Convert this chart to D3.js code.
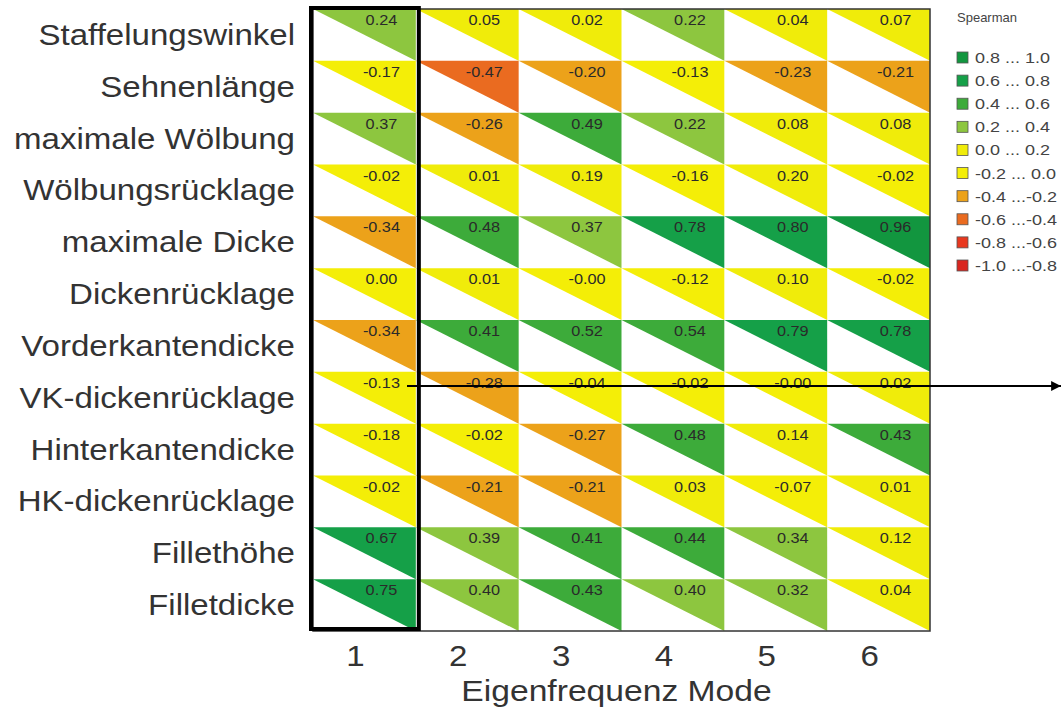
<!DOCTYPE html>
<html>
<head>
<meta charset="utf-8">
<script src="https://cdn.jsdelivr.net/npm/d3@7"></script>
<style>
  html, body { margin: 0; padding: 0; background: #fff; }
  svg { display: block; font-family: "Liberation Sans", Arial, Helvetica, sans-serif; }
</style>
</head>
<body>
<svg id="chart" width="1061" height="711"></svg>
<script>
// ---------- data ----------
const rowLabels = [
  "Staffelungswinkel", "Sehnenlänge", "maximale Wölbung", "Wölbungsrücklage",
  "maximale Dicke", "Dickenrücklage", "Vorderkantendicke", "VK-dickenrücklage",
  "Hinterkantendicke", "HK-dickenrücklage", "Fillethöhe", "Filletdicke"
];
const modeLabels = ["1", "2", "3", "4", "5", "6"];
const axisTitle = "Eigenfrequenz Mode";
const legendTitle = "Spearman";

// Spearman coefficients, one row per parameter, one entry per mode
const spearman = [
  [ 0.24,  0.05,  0.02,  0.22,  0.04,  0.07],
  [-0.17, -0.47, -0.20, -0.13, -0.23, -0.21],
  [ 0.37, -0.26,  0.49,  0.22,  0.08,  0.08],
  [-0.02,  0.01,  0.19, -0.16,  0.20, -0.02],
  [-0.34,  0.48,  0.37,  0.78,  0.80,  0.96],
  [ 0.00,  0.01, -0.00, -0.12,  0.10, -0.02],
  [-0.34,  0.41,  0.52,  0.54,  0.79,  0.78],
  [-0.13, -0.28, -0.04, -0.02, -0.00,  0.02],
  [-0.18, -0.02, -0.27,  0.48,  0.14,  0.43],
  [-0.02, -0.21, -0.21,  0.03, -0.07,  0.01],
  [ 0.67,  0.39,  0.41,  0.44,  0.34,  0.12],
  [ 0.75,  0.40,  0.43,  0.40,  0.32,  0.04]
];
const labelText = [
  ["0.24","0.05","0.02","0.22","0.04","0.07"],
  ["-0.17","-0.47","-0.20","-0.13","-0.23","-0.21"],
  ["0.37","-0.26","0.49","0.22","0.08","0.08"],
  ["-0.02","0.01","0.19","-0.16","0.20","-0.02"],
  ["-0.34","0.48","0.37","0.78","0.80","0.96"],
  ["0.00","0.01","-0.00","-0.12","0.10","-0.02"],
  ["-0.34","0.41","0.52","0.54","0.79","0.78"],
  ["-0.13","-0.28","-0.04","-0.02","-0.00","0.02"],
  ["-0.18","-0.02","-0.27","0.48","0.14","0.43"],
  ["-0.02","-0.21","-0.21","0.03","-0.07","0.01"],
  ["0.67","0.39","0.41","0.44","0.34","0.12"],
  ["0.75","0.40","0.43","0.40","0.32","0.04"]
];

// class bins (upper bound inclusive), lowest to highest
const binThresholds = [-0.8, -0.6, -0.4, -0.2, 0.0, 0.2, 0.4, 0.6, 0.8];
const binColors = ["#d9261f", "#e8381f", "#ea6b20", "#eca21a", "#f4ee07",
                   "#f0ec0a", "#8dc63f", "#3dab3a", "#15a048", "#12963f"];
const legendLabels = ["-1.0 ...-0.8", "-0.8 ...-0.6", "-0.6 ...-0.4", "-0.4 ...-0.2",
                      "-0.2 ... 0.0", "0.0 ... 0.2", "0.2 ... 0.4", "0.4 ... 0.6",
                      "0.6 ... 0.8", "0.8 ... 1.0"];

// ---------- layout ----------
const svg = d3.select("#chart");
const plot = { left: 313, right: 930, top: 9, bottom: 631 };
const SX = 1.14; // horizontal stretch of the large text glyphs in the original

const x = d3.scaleBand().domain(modeLabels).range([plot.left, plot.right]);
const y = d3.scaleBand().domain(rowLabels).range([plot.top, plot.bottom]);
const color = d3.scaleThreshold()
  .domain(binThresholds.map(t => t + 1e-9))
  .range(binColors);

const cells = [];
rowLabels.forEach((r, i) => modeLabels.forEach((m, j) => {
  cells.push({ row: r, mode: m, v: spearman[i][j], t: labelText[i][j] });
}));

// white background of plot
svg.append("rect")
  .attr("x", plot.left).attr("y", plot.top)
  .attr("width", plot.right - plot.left).attr("height", plot.bottom - plot.top)
  .attr("fill", "#fff");

// triangles (upper-right half of each cell)
svg.append("g").selectAll("path").data(cells).join("path")
  .attr("d", d => {
    const x0 = x(d.mode), x1 = x0 + x.bandwidth();
    const y0 = y(d.row), y1 = y0 + y.bandwidth();
    return `M${x0},${y0}L${x1},${y0}L${x1},${y1}Z`;
  })
  .attr("fill", d => color(d.v));

// value labels
svg.append("g").selectAll("text").data(cells).join("text")
  .attr("transform", d => `translate(${x(d.mode) + x.bandwidth() / 2 + 17},${y(d.row) + 16}) scale(1.05,1)`)
  .attr("text-anchor", "middle")
  .attr("font-size", 15.5)
  .attr("fill", "#2a2a2a")
  .text(d => d.t);

// plot frame
svg.append("rect")
  .attr("x", plot.left).attr("y", plot.top)
  .attr("width", plot.right - plot.left).attr("height", plot.bottom - plot.top)
  .attr("fill", "none").attr("stroke", "#333").attr("stroke-width", 1.5);

// row labels
svg.append("g").selectAll("text").data(rowLabels).join("text")
  .attr("transform", d => `translate(295,${y(d) + y.bandwidth() / 2 + 10}) scale(${SX},1)`)
  .attr("text-anchor", "end")
  .attr("font-size", 29)
  .attr("fill", "#333")
  .text(d => d);

// column tick labels
svg.append("g").selectAll("text").data(modeLabels).join("text")
  .attr("transform", d => `translate(${x(d) + x.bandwidth() / 2 - 9},666) scale(${SX},1)`)
  .attr("text-anchor", "middle")
  .attr("font-size", 29)
  .attr("fill", "#333")
  .text(d => d);

// axis title
svg.append("text")
  .attr("transform", `translate(${(plot.left + plot.right) / 2 - 5},701) scale(${SX + 0.02},1)`)
  .attr("text-anchor", "middle")
  .attr("font-size", 29)
  .attr("fill", "#333")
  .text(axisTitle);

// highlight box around mode 1
svg.append("rect")
  .attr("x", x("1") - 2).attr("y", plot.top - 1)
  .attr("width", x.bandwidth() + 5).attr("height", plot.bottom - plot.top - 1)
  .attr("fill", "none").attr("stroke", "#000").attr("stroke-width", 4);

// arrow
const defs = svg.append("defs");
defs.append("marker")
  .attr("id", "arrowhead").attr("viewBox", "0 0 10 10")
  .attr("refX", 10).attr("refY", 5)
  .attr("markerWidth", 4.5).attr("markerHeight", 7)
  .attr("markerUnits", "strokeWidth")
  .attr("orient", "auto")
  .append("path").attr("d", "M0,0L10,5L0,10Z").attr("fill", "#000");
svg.append("line")
  .attr("x1", 407).attr("y1", 386).attr("x2", 1061).attr("y2", 386)
  .attr("stroke", "#000").attr("stroke-width", 2.2)
  .attr("marker-end", "url(#arrowhead)");

// legend
const lg = svg.append("g");
lg.append("text").attr("x", 957).attr("y", 22)
  .attr("font-size", 13).attr("fill", "#444").text(legendTitle);
const legendOrder = d3.range(binColors.length).reverse();
const ly = d3.scalePoint().domain(legendOrder).range([58, 266]);
lg.selectAll("rect").data(legendOrder).join("rect")
  .attr("x", 957).attr("y", d => ly(d) - 6)
  .attr("width", 11).attr("height", 11)
  .attr("fill", d => binColors[d]).attr("stroke", "#555").attr("stroke-width", 0.8);
lg.selectAll("text.item").data(legendOrder).join("text")
  .attr("class", "item")
  .attr("transform", d => `translate(975,${ly(d) + 5}) scale(1.2,1)`)
  .attr("font-size", 15)
  .attr("fill", "#444")
  .text(d => legendLabels[d]);
</script>
</body>
</html>
